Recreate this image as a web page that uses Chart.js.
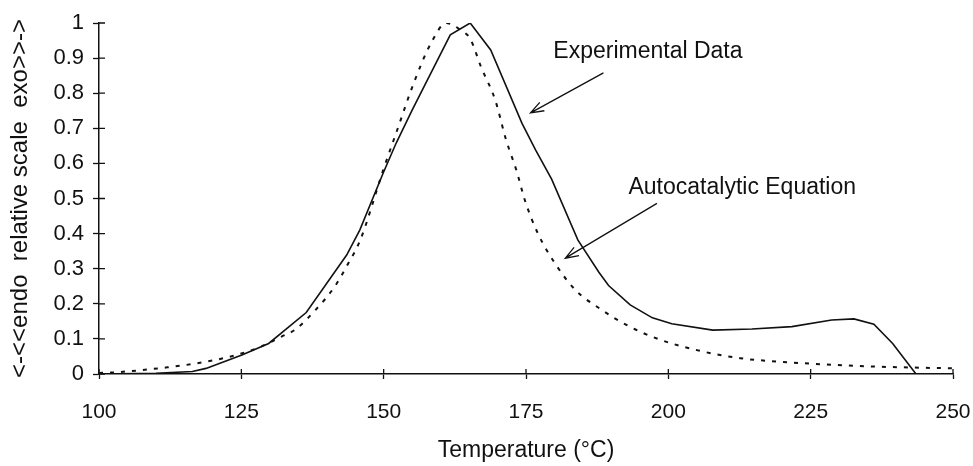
<!DOCTYPE html>
<html>
<head>
<meta charset="utf-8">
<script src="https://cdn.jsdelivr.net/npm/chart.js@4.4.1/dist/chart.umd.min.js"></script>
<style>
  html, body { margin: 0; padding: 0; background: #fff; }
  canvas { display: block; }
</style>
</head>
<body>
<canvas id="dscChart" width="973" height="466"></canvas>
<script>
// Temperature (°C) and relative heat flow
const expTemps = [100, 110, 116.4, 118.8, 125.1, 129.8, 136.4, 143.5, 145.8, 149.9, 152.2, 155, 161.7, 165.2,
    168.8, 174.3, 176.7, 179.5, 184.1, 187.8, 189.5, 193.3, 197.2, 200.6, 207.8, 214.7, 221.7, 228.7, 232.6,
    236.1, 239.4, 243.5];
const expValues = [0, 0.002, 0.007, 0.016, 0.054, 0.087, 0.175, 0.339, 0.41, 0.572, 0.658, 0.752, 0.966, 1.0,
    0.923, 0.714, 0.638, 0.555, 0.382, 0.29, 0.252, 0.197, 0.16, 0.143, 0.125, 0.128, 0.135, 0.154, 0.157,
    0.142, 0.087, 0];

const autoTemps = [100, 102.1, 107.4, 112, 117, 122.9, 128, 132, 134.5, 138, 141.4, 143.6, 145.9, 149.9, 152.2,
    155.5, 158.3, 161, 163.5, 165.2, 167.1, 169.6, 171.5, 173.3, 174.9, 177.1, 180.1, 183.7, 187.9, 193.2,
    198.5, 205, 212.6, 219.6, 228.9, 236.6, 250];
const autoValues = [0.003, 0.004, 0.011, 0.019, 0.03, 0.049, 0.075, 0.106, 0.127, 0.182, 0.249, 0.31, 0.382,
    0.58, 0.687, 0.838, 0.942, 1.0, 0.98, 0.955, 0.875, 0.78, 0.667, 0.581, 0.49, 0.4, 0.315, 0.239, 0.187,
    0.135, 0.098, 0.068, 0.045, 0.035, 0.026, 0.021, 0.016];

const xTicks = [100, 125, 150, 175, 200, 225, 250];
const yTicks = [0, 0.1, 0.2, 0.3, 0.4, 0.5, 0.6, 0.7, 0.8, 0.9, 1];

// callout labels: text anchor and arrow (tail -> head) in data units
const callouts = [
    { text: 'Experimental Data', at: [179.8, 0.917], from: [188.6, 0.858], to: [175.8, 0.744] },
    { text: 'Autocatalytic Equation', at: [193.0, 0.53], from: [198.0, 0.486], to: [181.9, 0.33] }
];

const FONT = '"Liberation Sans", Arial, sans-serif';
const INK = '#111';

function toPoints(xs, ys) {
    return xs.map(function(x, i) { return { x: x, y: ys[i] }; });
}

// ticks that cross the axis line: draw the inner half
const innerTicks = {
    id: 'innerTicks',
    afterDatasetsDraw: function(chart) {
        const ctx = chart.ctx;
        const xs = chart.scales.x, ys = chart.scales.y;
        ctx.save();
        ctx.strokeStyle = INK;
        ctx.lineWidth = 1.3;
        ctx.beginPath();
        xs.ticks.forEach(function(t) {
            const px = xs.getPixelForValue(t.value);
            ctx.moveTo(px, xs.top);
            ctx.lineTo(px, xs.top - 5);
        });
        ys.ticks.forEach(function(t) {
            const py = ys.getPixelForValue(t.value);
            ctx.moveTo(ys.right, py);
            ctx.lineTo(ys.right + 6, py);
        });
        ctx.stroke();
        ctx.restore();
    }
};

const calloutPlugin = {
    id: 'callouts',
    afterDatasetsDraw: function(chart) {
        const ctx = chart.ctx;
        const xs = chart.scales.x, ys = chart.scales.y;
        ctx.save();
        ctx.fillStyle = INK;
        ctx.strokeStyle = INK;
        ctx.lineWidth = 1.3;
        ctx.font = '23px ' + FONT;
        ctx.textBaseline = 'middle';
        ctx.textAlign = 'left';
        callouts.forEach(function(c) {
            ctx.fillText(c.text, xs.getPixelForValue(c.at[0]), ys.getPixelForValue(c.at[1]));
            const x1 = xs.getPixelForValue(c.from[0]), y1 = ys.getPixelForValue(c.from[1]);
            const x2 = xs.getPixelForValue(c.to[0]), y2 = ys.getPixelForValue(c.to[1]);
            const ang = Math.atan2(y2 - y1, x2 - x1);
            ctx.beginPath();
            ctx.moveTo(x1, y1);
            ctx.lineTo(x2, y2);
            ctx.moveTo(x2 - 14 * Math.cos(ang - 0.35), y2 - 14 * Math.sin(ang - 0.35));
            ctx.lineTo(x2, y2);
            ctx.lineTo(x2 - 14 * Math.cos(ang + 0.35), y2 - 14 * Math.sin(ang + 0.35));
            ctx.stroke();
        });
        ctx.restore();
    }
};

new Chart(document.getElementById('dscChart'), {
    type: 'line',
    data: {
        datasets: [
            {
                label: 'Experimental Data',
                data: toPoints(expTemps, expValues),
                borderColor: INK,
                borderWidth: 1.6,
                pointRadius: 0,
                tension: 0,
                fill: false
            },
            {
                label: 'Autocatalytic Equation',
                data: toPoints(autoTemps, autoValues),
                borderColor: INK,
                borderWidth: 2,
                borderDash: [4, 7],
                pointRadius: 0,
                cubicInterpolationMode: 'monotone',
                fill: false
            }
        ]
    },
    options: {
        responsive: false,
        animation: false,
        devicePixelRatio: 1,
        layout: { padding: { top: 23, right: 20, left: 0, bottom: 0 } },
        plugins: {
            legend: { display: false },
            tooltip: { enabled: false }
        },
        scales: {
            x: {
                type: 'linear',
                min: 100,
                max: 250,
                afterBuildTicks: function(scale) {
                    scale.ticks = xTicks.map(function(v) { return { value: v }; });
                },
                afterFit: function(scale) {
                    scale.height = 92;
                    scale.paddingLeft = 0;
                    scale.paddingRight = 0;
                },
                grid: { drawOnChartArea: false, tickLength: 5, color: INK, tickWidth: 1.3 },
                border: { color: INK, width: 1.5 },
                ticks: {
                    color: INK,
                    padding: 21,
                    maxRotation: 0,
                    font: { family: FONT, size: 21 }
                },
                title: {
                    display: true,
                    text: 'Temperature (°C)',
                    color: INK,
                    font: { family: FONT, size: 23 },
                    padding: { top: 0, bottom: 2 }
                }
            },
            y: {
                type: 'linear',
                min: 0,
                max: 1,
                afterBuildTicks: function(scale) {
                    scale.ticks = yTicks.map(function(v) { return { value: v }; });
                },
                afterFit: function(scale) { scale.width = 99; },
                grid: { drawOnChartArea: false, tickLength: 6, color: INK, tickWidth: 1.3 },
                border: { color: INK, width: 1.5 },
                ticks: {
                    color: INK,
                    padding: 9,
                    font: { family: FONT, size: 22 },
                    callback: function(v) { return String(v); }
                },
                title: {
                    display: true,
                    text: '<-<<endo  relative scale  exo>>->',
                    color: INK,
                    font: { family: FONT, size: 24 },
                    padding: { top: 6, bottom: 0 }
                }
            }
        }
    },
    plugins: [innerTicks, calloutPlugin]
});
</script>
</body>
</html>
